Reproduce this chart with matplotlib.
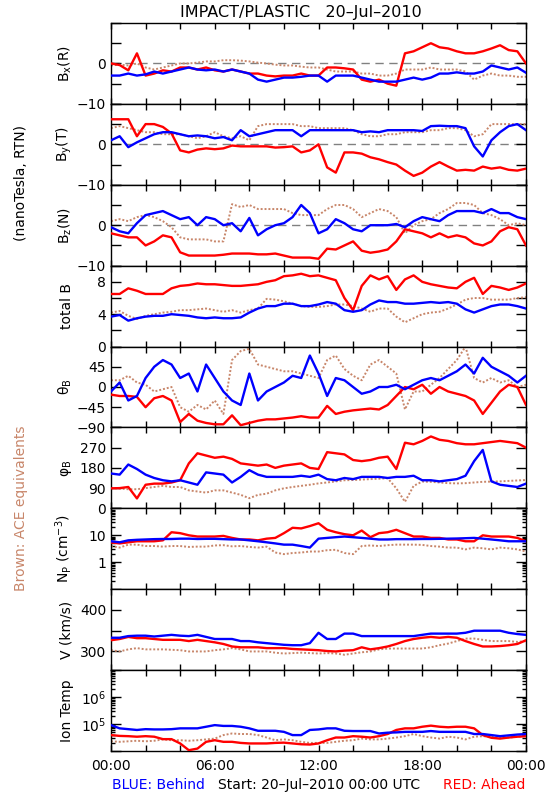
import numpy as np
import matplotlib
matplotlib.use("Agg")
import matplotlib.pyplot as plt
from matplotlib.ticker import FixedLocator, FixedFormatter, LogLocator, NullFormatter

plt.rcParams['font.family'] = ['DejaVu Sans']

RED = '#FF0000'
BLUE = '#0000FF'
BROWN = '#C8866A'

hours = np.arange(0, 24.01, 0.5)

bx_red = [0, -0.4, -1.7, 2.5, -3, -2.5, -1.7, -2, -1, -1, -1.5, -1,
          -1.7, -2, -1.5, -2, -2.5, -2.5, -3, -3.2, -3, -3, -2.5, -3,
          -3, -1, -1, -1.2, -1.5, -4, -4.5, -4, -5, -5.5, 2.5, 3,
          4, 5, 4, 3.7, 3, 2.5, 2.5, 3, 3.7, 4.5, 3.3, 3,
          0]
bx_blue = [-3, -3, -2.5, -3, -2.7, -2, -2.5, -2, -1.5, -1, -1.5, -1.7,
           -1.5, -2, -1.5, -2, -2.5, -4, -4.5, -4, -3.5, -3.5, -3.3, -3,
           -3, -4.5, -3, -3, -3, -3.5, -4, -4.5, -4.5, -4.5, -4, -3.5,
           -4, -3.5, -2.5, -2.5, -2.2, -2.5, -2.5, -2, -0.5, -1, -1.5, -1,
           -2.3]
bx_brown = [-0.5, -0.3, -0.5, 0, -1, -1.5, -1, -0.5, 0, 0, 0.2, 0.5,
            0.5, 0.8, 0.8, 0.7, 0.5, 0.2, 0, -0.3, -0.5, -0.5, -0.8, -1,
            -1, -1.5, -2, -2, -2, -2.5, -2.5, -3, -3, -2.5, -1.5, -1.5,
            -1.5, -1, -1.5, -1.5, -1.5, -2, -4, -3, -2.5, -3, -3, -3.3,
            -3.3]

by_red = [6.2, 6.2, 6.2, 2, 5, 5, 4.3, 2.7, -1.5, -2, -1.3, -1,
          -1.2, -1, -0.3, -0.5, -0.5, -0.5, -0.5, -0.8, -0.7, -0.5, -2, -1.5,
          0, -5.7, -7, -2, -2, -2.3, -3.2, -3.7, -4.4, -5, -6.5, -7.8,
          -7, -5.5, -4.4, -5.5, -6.5, -6.3, -6.5, -5.5, -6, -5.7, -6.3, -6.5,
          -6]
by_blue = [1, 2, -0.7, 0.5, 1.5, 2.5, 3, 3, 2.5, 2, 2.2, 2,
           1.5, 1.8, 1, 3.5, 2, 2.5, 3, 3.5, 3.5, 3.5, 2, 3.5,
           3.5, 3.5, 3.5, 3.5, 3.5, 3, 3.2, 3, 3.5, 3.5, 3.5, 3.5,
           3.3, 4.5, 4.6, 4.5, 4.5, 4, -0.5, -3, 1, 3, 4.5, 5,
           3.5]
by_brown = [4, 4.5, 4, 3.5, 3, 3, 2.5, 2.5, 2.5, 2, 1.5, 2,
            3, 2, 1.5, 2, 1, 4.5, 5, 5, 5, 5, 4.5, 4.5,
            4, 4, 4, 4, 3.5, 2.5, 2, 2, 2.5, 2.5, 3, 3,
            3, 3.5, 3.5, 4, 4, 3.5, 2, 2.5, 5, 5, 5, 5,
            5]

bz_red = [-2, -2.5, -3, -3, -5, -4, -2.5, -3, -6.7, -7.5, -7.5, -7.5,
          -7.5, -7.3, -7, -7, -7, -7.2, -7.2, -7, -7.5, -8, -8, -8,
          -8.3, -5.8, -6, -5, -4, -6.3, -6.8, -6.5, -6, -4, -1, -1.5,
          -2, -3, -2, -3, -2.5, -3, -4.5, -5, -4, -1.5, -0.5, -1,
          -5]
bz_blue = [-0.5, -1.5, -2, 0.5, 2.5, 3, 3.5, 2.5, 1.5, 2, 0, 2,
           1.5, 0, 0.5, -1.5, 1.8, -2.5, -1, 0, 0.5, 2, 5, 3,
           -2, -1, 1.5, 0.5, -1, -1.5, 0, 0, 0, 0.3, -0.5, 1,
           2, 1.5, 1, 2.5, 3.5, 3.5, 3.5, 3, 4, 3, 3, 2,
           1.5]
bz_brown = [1, 1.5, 1, 2, 2.5, 2, 1, -0.5, -3, -3.5, -3.5, -3.5,
            -4, -4, 5.2, 4.5, 5, 4, 4, 4, 4, 3, 2.5, 2.5,
            2.5, 4, 5, 5, 4, 2, 3, 4, 3.5, 2, -2, 0,
            1, 1.5, 3, 4, 5.5, 5.5, 5, 3, 2.5, 1.5, 0, 0.5,
            0]

bt_red = [6.5, 6.5, 7.2, 6.9, 6.5, 6.5, 6.5, 7.2, 7.5, 7.6, 7.8, 7.7,
          7.7, 7.6, 7.5, 7.5, 7.6, 7.7, 8.0, 8.2, 8.7, 8.8, 9.0, 8.7,
          8.8, 8.5, 8.2, 6.0, 4.5, 7.5, 8.8, 8.3, 8.7, 7.0, 8.3, 8.8,
          8.0, 7.7, 7.5, 7.3, 7.2, 8.0, 8.5, 6.5, 7.5, 7.3, 7.0, 7.3,
          7.8]
bt_blue = [3.7, 3.9, 3.2, 3.5, 3.7, 3.8, 3.8, 4.0, 3.9, 3.8, 3.6, 3.5,
           3.6, 3.5, 3.5, 3.6, 4.2, 4.7, 5.0, 5.0, 5.3, 5.3, 5.0, 5.0,
           5.2, 5.5, 5.3, 4.5, 4.3, 4.5, 5.2, 5.7, 5.5, 5.5, 5.3, 5.3,
           5.4, 5.5, 5.4, 5.5, 5.3, 4.6, 4.2, 4.6, 5.0, 5.2, 5.2, 5.0,
           4.7]
bt_brown = [4.2, 4.4, 3.8, 3.4, 3.8, 4.0, 4.2, 4.3, 4.5, 4.5, 4.6, 4.7,
            4.5, 4.3, 4.5, 4.2, 4.5, 4.7, 5.9, 5.8, 5.6, 5.3, 5.0, 4.9,
            4.9, 5.0, 5.2, 5.2, 5.0, 4.7, 4.3, 4.7, 4.7, 3.7, 3.0, 3.5,
            4.0, 4.2, 4.3, 4.7, 5.2, 5.8, 6.0, 6.0, 5.8, 5.8, 5.8, 6.0,
            6.1]

theta_red = [-17, -20, -20, -22, -45, -25, -20, -30, -78, -60, -75, -80,
             -83, -83, -63, -85, -80, -75, -72, -72, -70, -68, -65, -68,
             -68, -42, -60, -55, -52, -50, -48, -50, -40, -20, 0, -5,
             5, -15, 0, -10, -15, -20, -30, -60, -35, -10, 5, 0,
             -40]
theta_blue = [-10, 10, -30, -20, 20, 45, 60, 50, 20, 30, -10, 50,
              20, -10, -30, -40, 30, -30, -10, 0, 10, 25, 20, 70,
              30, -20, 20, 15, 0, -15, -10, 0, 0, 5, -5, 5,
              15, 20, 15, 25, 35, 50, 30, 65, 45, 35, 25, 10,
              25]
theta_brown = [15, 15, 25, 10, 5, -10, -5, 0, -45, -55, -40, -50,
               -30, -60, 60, 80, 85, 50, 45, 40, 35, 35, 30, 25,
               20, 60, 70, 40, 25, 15, 50, 60, 45, 30, -50, -10,
               -10, 5, 20, 40, 60, 90, 20, 10, 20, 10, 15, 0,
               5]

phi_red = [89, 90, 95, 44, 105, 110, 110, 115, 125, 200, 245, 235,
           225, 230, 220, 200, 195, 190, 195, 180, 190, 195, 200, 180,
           175, 250, 245, 240, 215, 210, 215, 225, 230, 175, 292, 285,
           300, 320, 305, 300, 290, 285, 285, 290, 295, 300, 295, 290,
           270]
phi_blue = [155, 150, 195, 175, 150, 135, 125, 120, 125, 115, 105, 160,
            155, 150, 115, 140, 170, 150, 140, 140, 140, 140, 145, 140,
            150, 130, 125, 135, 130, 140, 140, 140, 135, 140, 140, 145,
            125, 125, 120, 125, 130, 145, 210, 260, 120, 105, 100, 95,
            110]
phi_brown = [90, 88, 85, 85, 90, 95, 100, 95, 95, 80, 75, 70,
             80, 80, 70, 60, 45, 60, 65, 80, 89, 95, 100, 105,
             111, 115, 120, 125, 126, 128, 130, 132, 134, 89, 29, 100,
             119, 118, 115, 112, 111, 112, 115, 118, 119, 120, 122, 124,
             126]

np_red = [5.4, 5, 5.5, 6, 6, 6, 6.5, 13, 12, 10, 9, 9,
          9, 9.5, 8, 7, 7, 6.5, 7.5, 8, 12, 19, 18, 22,
          28, 16, 13, 11, 10, 15, 8.5, 12, 13, 16, 12, 9,
          9, 8, 8, 7, 7, 6, 6, 10, 9, 9, 9, 8,
          6]
np_blue = [6, 5.5, 6.5, 6.8, 7, 7.2, 7.3, 7.3, 7.5, 7.5, 7.3, 7.4,
           7.4, 7.2, 7.0, 7.0, 6.5, 6, 5.5, 5, 4.5, 4.5, 4, 3.5,
           7.5, 8, 8.5, 9, 8.5, 8, 7.5, 7, 7, 7.2, 7.2, 7.2,
           7.3, 7.3, 7.4, 7.5, 7.6, 7.8, 8, 7.5, 7, 6.5, 6, 6,
           6]
np_brown = [4, 3.5, 4.5, 4.5, 4, 4, 3.8, 4, 4, 3.7, 3.8, 3.8,
            4.2, 4.3, 3.9, 4, 3.7, 3.5, 3.8, 2.3, 2.0, 2.2, 2.3, 2.5,
            2.5, 2.8, 2.9, 2.2, 2.0, 4.0, 4.2, 4.0, 4.3, 4.5, 4.5, 4.5,
            4.4, 4.0, 3.8, 3.5, 3.5, 3.0, 3.5, 3.3, 3.0, 3.5, 3.3, 3.0,
            2.5]

v_red = [327, 330, 335, 332, 332, 330, 328, 328, 328, 325, 328, 325,
         322, 318, 312, 310, 310, 310, 308, 308, 308, 306, 305, 304,
         303, 301, 300, 302, 303, 310, 305, 308, 312, 318, 325, 330,
         333, 335, 333, 335, 333, 325, 318, 312, 312, 313, 315, 318,
         327]
v_blue = [333, 333, 337, 338, 338, 336, 338, 340, 338, 337, 340, 335,
          330, 330, 330, 325, 325, 322, 320, 318, 316, 315, 315, 320,
          345, 330, 330, 343, 343, 337, 337, 337, 337, 337, 337, 337,
          340, 343, 343, 343, 343, 345, 350, 350, 350, 350, 345, 342,
          340]
v_brown = [303, 300, 305, 308, 305, 305, 305, 304, 303, 300, 300, 300,
           303, 305, 308, 305, 300, 300, 300, 297, 295, 296, 297, 296,
           295, 296, 295, 292, 295, 298, 300, 305, 307, 307, 307, 307,
           307, 310, 315, 319, 325, 331, 331, 328, 325, 325, 325, 323,
           325]

logT_red = [4.59, 4.56, 4.55, 4.53, 4.55, 4.53, 4.44, 4.44, 4.28, 4.03, 4.09, 4.34,
            4.40, 4.34, 4.34, 4.30, 4.28, 4.28, 4.28, 4.30, 4.31, 4.28, 4.25, 4.24,
            4.28, 4.40, 4.50, 4.50, 4.55, 4.53, 4.50, 4.55, 4.63, 4.78, 4.84, 4.84,
            4.90, 4.94, 4.90, 4.88, 4.90, 4.90, 4.84, 4.59, 4.49, 4.46, 4.50, 4.53,
            4.55]
logT_blue = [4.96, 4.84, 4.81, 4.78, 4.81, 4.80, 4.80, 4.81, 4.84, 4.84, 4.84, 4.90,
             4.96, 4.93, 4.93, 4.90, 4.84, 4.75, 4.75, 4.75, 4.71, 4.59, 4.59, 4.78,
             4.80, 4.84, 4.84, 4.75, 4.74, 4.74, 4.74, 4.65, 4.68, 4.69, 4.71, 4.71,
             4.71, 4.74, 4.71, 4.71, 4.71, 4.71, 4.63, 4.63, 4.59, 4.55, 4.58, 4.61,
             4.63]
logT_brown = [4.36, 4.34, 4.36, 4.38, 4.36, 4.38, 4.43, 4.40, 4.40, 4.38, 4.40, 4.43,
              4.46, 4.59, 4.65, 4.63, 4.63, 4.59, 4.50, 4.40, 4.43, 4.40, 4.34, 4.30,
              4.30, 4.30, 4.34, 4.38, 4.40, 4.46, 4.43, 4.43, 4.46, 4.50, 4.55, 4.63,
              4.55, 4.50, 4.46, 4.53, 4.50, 4.43, 4.53, 4.55, 4.53, 4.50, 4.50, 4.53,
              4.55]

panel_labels = ['B$_{\\rm x}$(R)', 'B$_{\\rm y}$(T)', 'B$_{\\rm z}$(N)', 'total B',
                '\u03b8$_{\\rm B}$', '\u03c6$_{\\rm B}$',
                'N$_{\\rm P}$ (cm$^{-3}$)', 'V (km/s)', 'Ion Temp']
x_tick_labels = ['00:00', '06:00', '12:00', '18:00', '00:00']

panels = [
    dict(data=(bx_brown, bx_red, bx_blue), ylim=(-10, 10), ticks=[-10, -5, 0, 5, 10],
         labels=['\u221210', '', '0', '', ''], zero=True),
    dict(data=(by_brown, by_red, by_blue), ylim=(-10, 10), ticks=[-10, -5, 0, 5, 10],
         labels=['\u221210', '', '0', '', ''], zero=True),
    dict(data=(bz_brown, bz_red, bz_blue), ylim=(-10, 10), ticks=[-10, -5, 0, 5, 10],
         labels=['\u221210', '', '0', '', ''], zero=True),
    dict(data=(bt_brown, bt_red, bt_blue), ylim=(0, 10), ticks=[0, 2, 4, 6, 8, 10],
         labels=['0', '', '4', '', '8', '']),
    dict(data=(theta_brown, theta_red, theta_blue), ylim=(-90, 90), ticks=[-90, -45, 0, 45, 90],
         labels=['\u221290', '\u221245', '0', '45', '']),
    dict(data=(phi_brown, phi_red, phi_blue), ylim=(0, 360), ticks=[0, 90, 180, 270, 360],
         labels=['0', '90', '180', '270', '']),
    dict(data=(np_brown, np_red, np_blue), ylim=(0.1, 100), log=True,
         ticks=[0.1, 1, 10, 100], labels=['', '1', '10', '']),
    dict(data=(v_brown, v_red, v_blue), ylim=(255, 450), ticks=[300, 350, 400],
         labels=['300', '', '400']),
    dict(data=tuple(10 ** np.array(a) for a in (logT_brown, logT_red, logT_blue)),
         ylim=(1e4, 1e7), log=True, ticks=[1e4, 1e5, 1e6, 1e7],
         labels=['', '10$^{5}$', '10$^{6}$', '']),
]

W, H = 550, 800
fig = plt.figure(figsize=(W / 100, H / 100), dpi=100)
left_px, right_px, top_px, bot_px = 111, 526, 23, 751
ph = (bot_px - top_px) / len(panels)

for i, p in enumerate(panels):
    y0 = top_px + (i + 1) * ph
    ax = fig.add_axes([left_px / W, 1 - y0 / H, (right_px - left_px) / W, ph / H])
    brown, red, blue = p['data']
    if p.get('zero'):
        ax.axhline(0, color='#808080', lw=1.0, ls=(0, (6, 4)), zorder=1)
    ax.plot(hours, brown, color=BROWN, lw=1.4, ls=(0, (1, 1)), zorder=2)
    ax.plot(hours, red, color=RED, lw=1.7, zorder=3)
    ax.plot(hours, blue, color=BLUE, lw=1.7, zorder=4)
    if p.get('log'):
        ax.set_yscale('log')
        ax.yaxis.set_minor_locator(LogLocator(base=10, subs=np.arange(2, 10), numticks=20))
        ax.yaxis.set_minor_formatter(NullFormatter())
    ax.set_ylim(*p['ylim'])
    ax.yaxis.set_major_locator(FixedLocator(p['ticks']))
    ax.yaxis.set_major_formatter(FixedFormatter(p['labels']))
    ax.set_xlim(0, 24)
    ax.xaxis.set_major_locator(FixedLocator([0, 6, 12, 18, 24]))
    ax.xaxis.set_minor_locator(FixedLocator([2, 4, 8, 10, 14, 16, 20, 22]))
    ax.tick_params(axis='both', which='both', direction='in', top=True, right=True,
                   labelsize=10, width=1)
    ax.tick_params(axis='y', which='major', length=7)
    ax.tick_params(axis='y', which='minor', length=3)
    ax.tick_params(axis='x', which='both', length=4)
    if i < len(panels) - 1:
        ax.set_xticklabels([])
    else:
        ax.xaxis.set_major_formatter(FixedFormatter(x_tick_labels))
        ax.tick_params(axis='x', pad=6)
    for s in ax.spines.values():
        s.set_linewidth(1.0)
    ax.set_ylabel(panel_labels[i], fontsize=10)
    ax.yaxis.set_label_coords(-0.09, 0.5)

fig.text(301 / W, 1 - 12 / H, 'IMPACT/PLASTIC   20\u2013Jul\u20132010', ha='center', va='center',
         fontsize=11.5)
fig.text(21 / W, 1 - 183 / H, '(nanoTesla, RTN)', rotation=90, ha='center', va='center',
         fontsize=10)
fig.text(21 / W, 1 - 508 / H, 'Brown: ACE equivalents', rotation=90, ha='center', va='center',
         fontsize=10, color=BROWN)
fig.text(112 / W, 1 - 785 / H, 'BLUE: Behind', ha='left', va='center', fontsize=10, color=BLUE)
fig.text(319 / W, 1 - 785 / H, 'Start: 20\u2013Jul\u20132010 00:00 UTC', ha='center', va='center',
         fontsize=10)
fig.text(525 / W, 1 - 785 / H, 'RED: Ahead', ha='right', va='center', fontsize=10, color=RED)

fig.savefig('out.png', dpi=100)
